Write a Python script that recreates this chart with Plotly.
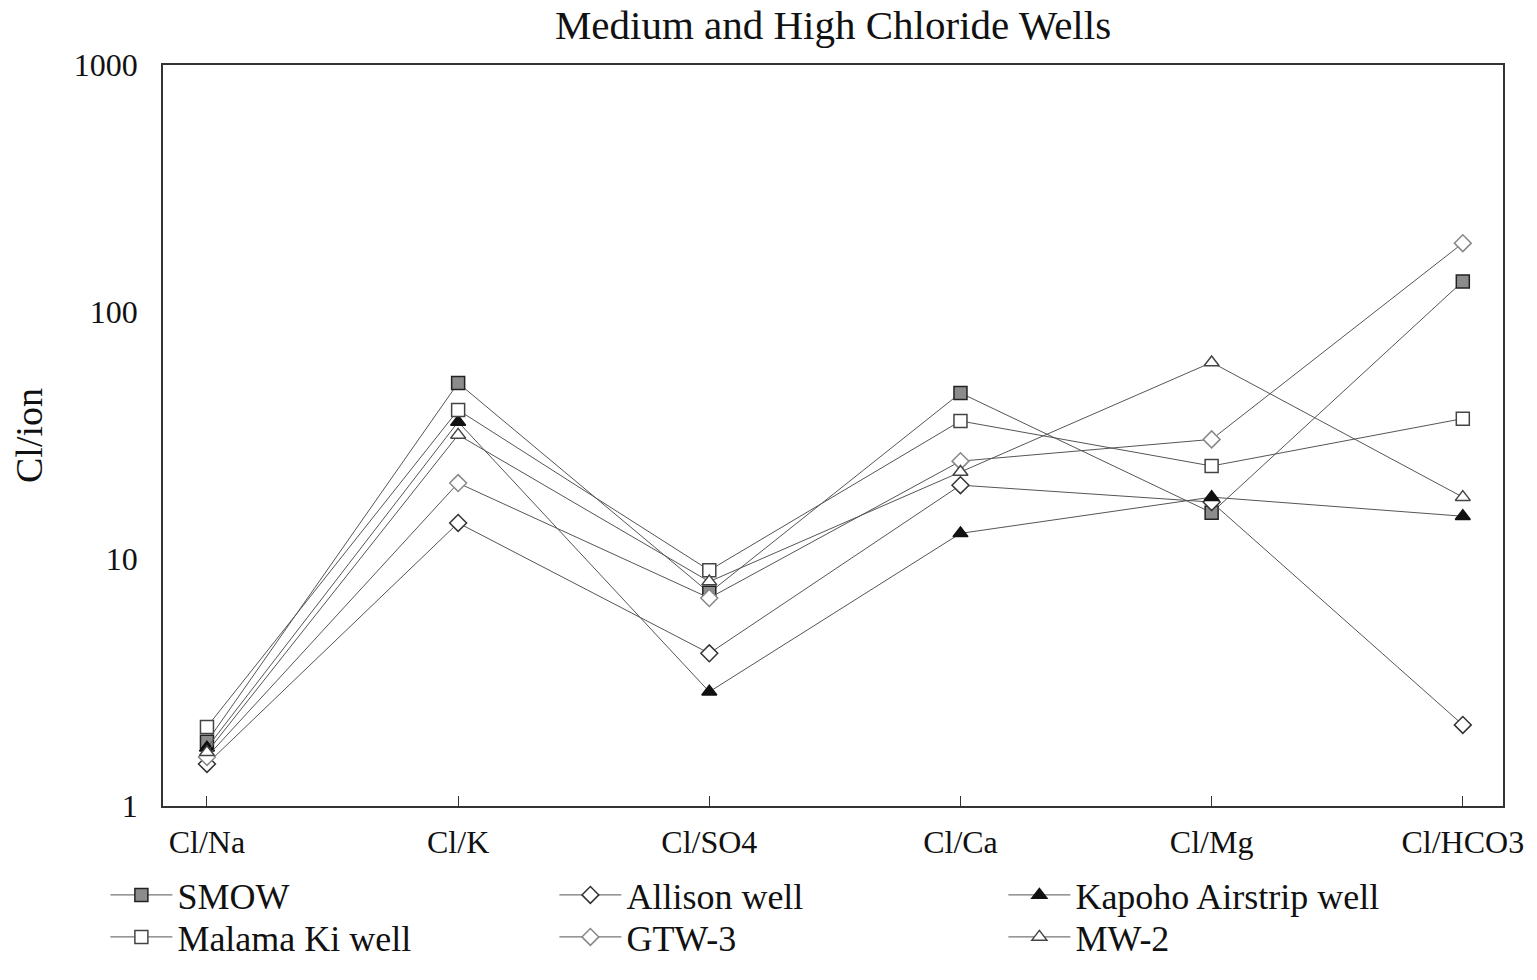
import plotly.graph_objects as go

categories = ["Cl/Na", "Cl/K", "Cl/SO4", "Cl/Ca", "Cl/Mg", "Cl/HCO3"]
smow = [1.82, 51.6, 7.3, 47.0, 15.4, 133]
allison = [1.48, 14.0, 4.15, 19.9, 17.0, 2.13]
kapoho = [1.72, 35.9, 2.9, 12.7, 17.8, 14.9]
malama = [2.09, 40.1, 9.0, 36.2, 23.8, 37.0]
gtw3 = [1.58, 20.3, 6.95, 24.9, 30.5, 190]
mw2 = [1.65, 31.8, 8.1, 22.5, 62.5, 17.8]

y_ticks = [1, 10, 100, 1000]
y_ticktext = ["1", "10", "100", "1000"]

FONT = "Liberation Serif"
LINE = "#555555"

series = [
    ("SMOW", smow, "square", "#8c8c8c", "#222222", "legend"),
    ("Allison well", allison, "diamond", "white", "#333333", "legend"),
    ("Kapoho Airstrip well", kapoho, "triangle-up", "#111111", "#111111", "legend"),
    ("Malama Ki well", malama, "square", "white", "#444444", "legend2"),
    ("GTW-3", gtw3, "diamond", "white", "#888888", "legend2"),
    ("MW-2", mw2, "triangle-up", "white", "#444444", "legend2"),
]

fig = go.Figure()
for name, vals, sym, fill, edge, leg in series:
    fig.add_trace(go.Scatter(
        x=categories, y=vals, name=name, mode="lines+markers",
        line=dict(color=LINE, width=1),
        marker=dict(symbol=sym, size=13, color=fill, line=dict(color=edge, width=1.5)),
        legend=leg,
    ))

legend_common = dict(
    orientation="h", xanchor="left", yanchor="middle",
    font=dict(family=FONT, size=36, color="#111111"),
    itemwidth=62, entrywidth=372, entrywidthmode="pixels",
    bgcolor="rgba(0,0,0,0)", traceorder="normal",
)

fig.update_layout(
    width=1537, height=980,
    margin=dict(l=163, r=34, t=65, b=174),
    paper_bgcolor="white", plot_bgcolor="white",
    font=dict(family=FONT, color="#111111"),
    title=dict(text="Medium and High Chloride Wells", x=0.5, xref="paper",
               y=1 - 25 / 980, yanchor="middle",
               font=dict(family=FONT, size=41, color="#111111")),
    showlegend=True,
    legend=dict(x=-0.043, y=(806 - 895) / 741, **legend_common),
    legend2=dict(x=-0.043, y=(806 - 937) / 741, **legend_common),
)

fig.update_xaxes(
    type="category", categoryorder="array", categoryarray=categories,
    range=[-0.175, 5.16],
    showline=True, linecolor="#333333", linewidth=1.5, mirror=True,
    ticks="inside", ticklen=10, tickcolor="#333333",
    showgrid=False, zeroline=False,
    tickfont=dict(family=FONT, size=32, color="#111111"),
    ticklabelstandoff=7,
)
fig.update_yaxes(
    type="log", range=[0, 3],
    tickvals=y_ticks, ticktext=y_ticktext,
    showline=True, linecolor="#333333", linewidth=1.5, mirror=True,
    ticks="", showgrid=False, zeroline=False,
    tickfont=dict(family=FONT, size=32, color="#111111"),
    ticklabelstandoff=17,
    title=dict(text="Cl/ion", font=dict(family=FONT, size=38, color="#111111"), standoff=20),
)

fig.write_html("out.html")
